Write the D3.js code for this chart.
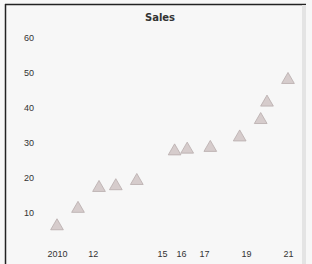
<!DOCTYPE html>
<html lang="en">
<head>
<meta charset="UTF-8">
<title>Chart</title>
<style>
  body { margin: 0; background: #ffffff; font-family: 'DejaVu Sans', sans-serif; }
  svg { display: block; }
  .tick text { fill: #333; font-size: 9px; }
</style>
</head>
<body>
<div id="chart"></div>
<script src="https://cdnjs.cloudflare.com/ajax/libs/d3/7.8.5/d3.min.js"></script>
<script>
  // data
  var xValues = [0, 1, 2, 2.8, 3.8, 5.6, 6.2, 7.3, 8.7, 9.7, 10, 11];
  var yValues = [6, 11, 17, 17.5, 19, 27.5, 28, 28.5, 31.5, 36.5, 41.5, 48];
  var xTicks = [0, 1.7, 5, 5.9, 7, 9, 11];
  var xTickLabels = ['2010', '12', '15', '16', '17', '19', '21'];
  var yTicks = [10, 20, 30, 40, 50, 60];
  var title = 'Sales';

  var width = 312, height = 264;
  var svg = d3.select('#chart').append('svg')
      .attr('width', width)
      .attr('height', height);

  svg.append('rect')
      .attr('width', width).attr('height', height)
      .attr('fill', '#f7f7f7');

  // frame: dark top and left edges, grey strip at the right
  svg.append('line').attr('x1', 5).attr('x2', 306).attr('y1', 4.5).attr('y2', 4.5)
      .attr('stroke', '#222').attr('stroke-width', 1.5);
  svg.append('line').attr('x1', 5.5).attr('x2', 5.5).attr('y1', 4).attr('y2', height)
      .attr('stroke', '#222').attr('stroke-width', 1.5);
  svg.append('rect').attr('x', 302).attr('y', 5).attr('width', 4).attr('height', height)
      .attr('fill', '#e4e4e4');

  var x = d3.scaleLinear().domain([0, 11]).range([57, 288]);
  var y = d3.scaleLinear().domain([0, 60]).range([247, 38]);

  svg.append('text')
      .attr('x', 160).attr('y', 21)
      .attr('text-anchor', 'middle')
      .attr('font-size', 10).attr('font-weight', 'bold')
      .attr('fill', '#333')
      .text(title);

  // y axis, labels only
  var yAxis = svg.append('g')
      .attr('transform', 'translate(36,0)')
      .call(d3.axisLeft(y).tickValues(yTicks).tickSize(0).tickPadding(2));
  yAxis.select('.domain').remove();

  // x axis, labels only
  var xAxis = svg.append('g')
      .attr('transform', 'translate(0,248)')
      .call(d3.axisBottom(x).tickValues(xTicks)
          .tickFormat(function (d, i) { return xTickLabels[i]; })
          .tickSize(0).tickPadding(3));
  xAxis.select('.domain').remove();

  var pts = xValues.map(function (d, i) { return [d, yValues[i]]; });

  svg.selectAll('.pt')
      .data(pts)
      .enter().append('path')
      .attr('class', 'pt')
      .attr('transform', function (d) { return 'translate(' + x(d[0]) + ',' + y(d[1]) + ')'; })
      .attr('d', d3.symbol().type(d3.symbolTriangle).size(70))
      .attr('fill', '#d6cccc')
      .attr('stroke', '#b8acac')
      .attr('stroke-width', 0.8);
</script>
</body>
</html>
